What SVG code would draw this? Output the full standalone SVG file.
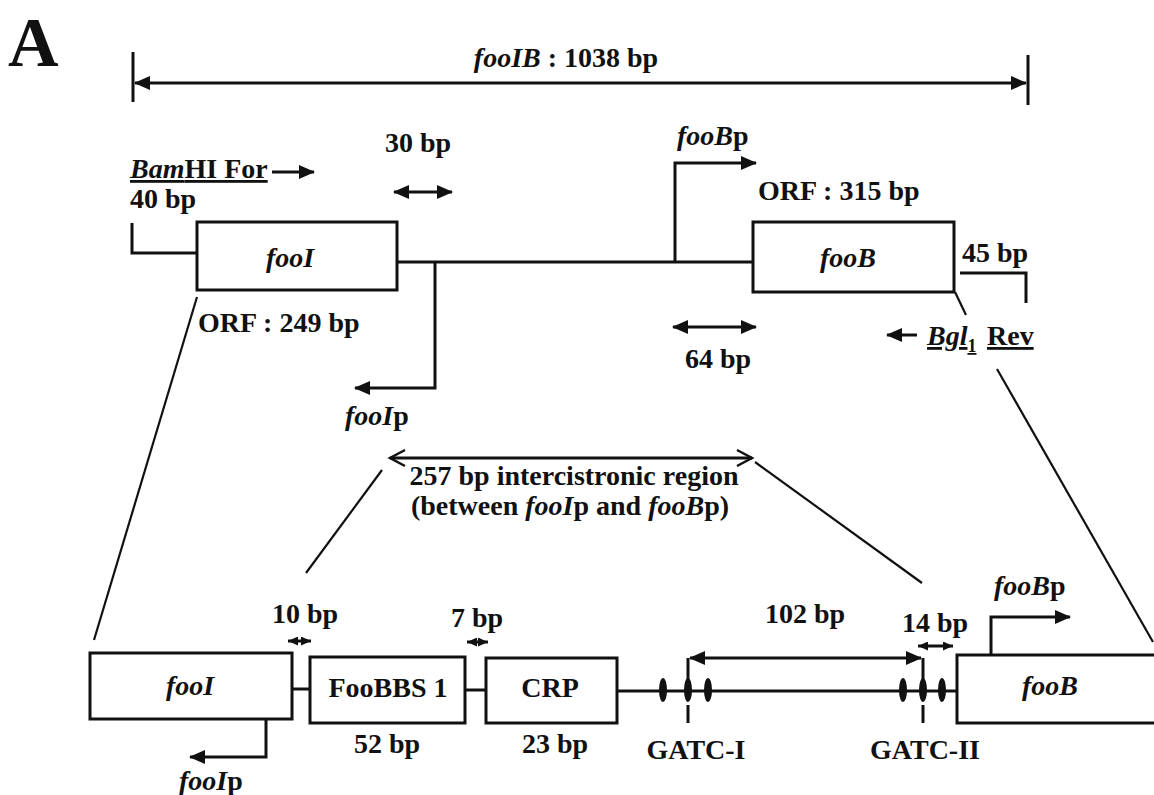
<svg xmlns="http://www.w3.org/2000/svg" width="1154" height="795" viewBox="0 0 1154 795">
<style>
text{font-family:"Liberation Serif","Times New Roman",serif;font-weight:bold;font-size:28px;fill:#111}
.i{font-style:italic}
.box{fill:#fff;stroke:#111;stroke-width:3}
.ln{stroke:#111;stroke-width:3;fill:none}
.thin{stroke:#111;stroke-width:2.2;fill:none}
.mid{text-anchor:middle}
</style>
<defs>
<marker id="ah" markerUnits="userSpaceOnUse" markerWidth="16" markerHeight="14" refX="15" refY="7" orient="auto-start-reverse"><path d="M0,0 L16,7 L0,14 z" fill="#111"/></marker>
<marker id="as" markerUnits="userSpaceOnUse" markerWidth="10" markerHeight="9" refX="10" refY="4.5" orient="auto-start-reverse"><path d="M0,0 L10,4.5 L0,9 z" fill="#111"/></marker>
<marker id="ao" markerUnits="userSpaceOnUse" markerWidth="20" markerHeight="20" refX="17" refY="10" orient="auto-start-reverse"><path d="M2,2 L17,10 L2,18" fill="none" stroke="#111" stroke-width="2.5"/></marker>
</defs>
<rect width="1154" height="795" fill="#fff"/>
<g id="panel-label"><text x="8" y="66" style="font-size:70px">A</text></g>

<g id="connectors">
<line class="ln" x1="133" y1="52" x2="133" y2="102"/>
<line class="ln" x1="1028" y1="55" x2="1028" y2="105"/>
<line class="ln" x1="135" y1="83" x2="1026" y2="83" marker-start="url(#ah)" marker-end="url(#ah)"/>
<line class="ln" x1="394" y1="192" x2="452" y2="192" marker-start="url(#ah)" marker-end="url(#ah)"/>
<line class="ln" x1="272" y1="172" x2="314" y2="172" marker-end="url(#ah)"/>
<polyline class="ln" points="132,223 132,253 197,253"/>
<line class="ln" x1="397" y1="262" x2="753" y2="262"/>
<polyline class="ln" points="435,262 435,388 355,388" marker-end="url(#ah)"/>
<polyline class="ln" points="675,262 675,163 756,163" marker-end="url(#ah)"/>
<polyline class="ln" points="960,273 1026,273 1026,303"/>
<line class="ln" x1="673" y1="327" x2="756" y2="327" marker-start="url(#ah)" marker-end="url(#ah)"/>
<line class="ln" x1="917" y1="335" x2="887" y2="335" marker-end="url(#ah)"/>
<line class="ln" x1="390" y1="458" x2="752" y2="458" marker-start="url(#ao)" marker-end="url(#ao)"/>
<line class="thin" x1="197" y1="297" x2="94" y2="640"/>
<line class="thin" x1="382" y1="470" x2="306" y2="573"/>
<line class="thin" x1="755" y1="462" x2="922" y2="583"/>
<line class="thin" x1="955" y1="292" x2="966" y2="315"/>
<line class="thin" x1="997" y1="369" x2="1153" y2="642"/>
<line class="ln" x1="292" y1="689" x2="310" y2="689"/>
<line class="ln" x1="465" y1="690" x2="486" y2="690"/>
<line class="ln" x1="617" y1="691" x2="957" y2="691"/>
<line class="ln" x1="288" y1="641" x2="311" y2="641" stroke-width="2.5" marker-start="url(#as)" marker-end="url(#as)"/>
<line class="ln" x1="467" y1="642" x2="488" y2="642" stroke-width="2.5" marker-start="url(#as)" marker-end="url(#as)"/>
<line class="ln" x1="918" y1="646" x2="953" y2="646" stroke-width="2.5" marker-start="url(#as)" marker-end="url(#as)"/>
<line class="ln" x1="688" y1="658" x2="688" y2="690"/>
<line class="ln" x1="688" y1="705" x2="688" y2="723"/>
<line class="ln" x1="923" y1="658" x2="923" y2="690"/>
<line class="ln" x1="923" y1="705" x2="923" y2="723"/>
<line class="ln" x1="690" y1="658" x2="921" y2="658" marker-start="url(#ah)" marker-end="url(#ah)"/>
<polyline class="ln" points="266,719 266,757 190,757" marker-end="url(#ah)"/>
<polyline class="ln" points="991,655 991,617 1070,617" marker-end="url(#ah)"/>
</g>

<g id="title"><text x="566" y="67" class="mid"><tspan class="i">fooIB</tspan> : 1038 bp</text></g>
<g id="lbl30"><text x="385" y="152">30 bp</text></g>
<g id="bamhi"><text x="130" y="178" text-decoration="underline"><tspan class="i">Bam</tspan>HI For</text></g>
<g id="lbl40"><text x="130" y="208">40 bp</text></g>
<g id="fooI-top"><rect class="box" x="197" y="222" width="200" height="68"/><text x="290" y="267" class="mid i">fooI</text></g>
<g id="orf249"><text x="198" y="332">ORF : 249 bp</text></g>
<g id="fooIp-top"><text x="345" y="425"><tspan class="i">fooI</tspan>p</text></g>
<g id="fooBp-top"><text x="677" y="145"><tspan class="i">fooB</tspan>p</text></g>
<g id="orf315"><text x="758" y="200">ORF : 315 bp</text></g>
<g id="fooB-top"><rect class="box" x="753" y="222" width="201" height="70"/><text x="848" y="267" class="mid i">fooB</text></g>
<g id="lbl45"><text x="962" y="262">45 bp</text></g>
<g id="lbl64"><text x="685" y="368">64 bp</text></g>
<g id="bglrev"><text x="927" y="345" text-decoration="underline"><tspan class="i">Bgl</tspan><tspan dy="7" style="font-size:18px">1</tspan><tspan dy="-7" x="987">Rev</tspan></text></g>
<g id="intercistronic">
<text x="574" y="485" class="mid">257 bp intercistronic region</text>
<text x="570" y="515" class="mid">(between <tspan class="i">fooI</tspan>p and <tspan class="i">fooB</tspan>p)</text>
</g>
<g id="lbl10"><text x="272" y="623">10 bp</text></g>
<g id="lbl7"><text x="451" y="627">7 bp</text></g>
<g id="fooI-bot"><rect class="box" x="90" y="653" width="202" height="66"/><text x="190" y="695" class="mid i">fooI</text></g>
<g id="foobbs"><rect class="box" x="310" y="657" width="155" height="66"/><text x="388" y="697" class="mid">FooBBS 1</text><text x="354" y="753">52 bp</text></g>
<g id="crp"><rect class="box" x="486" y="658" width="131" height="65"/><text x="550" y="697" class="mid">CRP</text><text x="522" y="753">23 bp</text></g>
<g id="gatc1">
<ellipse cx="663" cy="690" rx="4" ry="12" fill="#111"/><ellipse cx="688" cy="690" rx="4" ry="12" fill="#111"/><ellipse cx="708" cy="690" rx="4" ry="12" fill="#111"/>
<text x="696" y="759" class="mid">GATC-I</text>
</g>
<g id="gatc2">
<ellipse cx="903" cy="690" rx="4" ry="12" fill="#111"/><ellipse cx="923" cy="690" rx="4" ry="12" fill="#111"/><ellipse cx="942" cy="690" rx="4" ry="12" fill="#111"/>
<text x="925" y="759" class="mid">GATC-II</text>
</g>
<g id="lbl102"><text x="765" y="623">102 bp</text></g>
<g id="lbl14"><text x="902" y="632">14 bp</text></g>
<g id="fooBp-bot"><text x="994" y="595"><tspan class="i">fooB</tspan>p</text></g>
<g id="fooB-bot"><rect class="box" x="957" y="655" width="210" height="68"/><text x="1050" y="695" class="mid i">fooB</text></g>
<g id="fooIp-bot"><text x="179" y="790"><tspan class="i">fooI</tspan>p</text></g>
</svg>
